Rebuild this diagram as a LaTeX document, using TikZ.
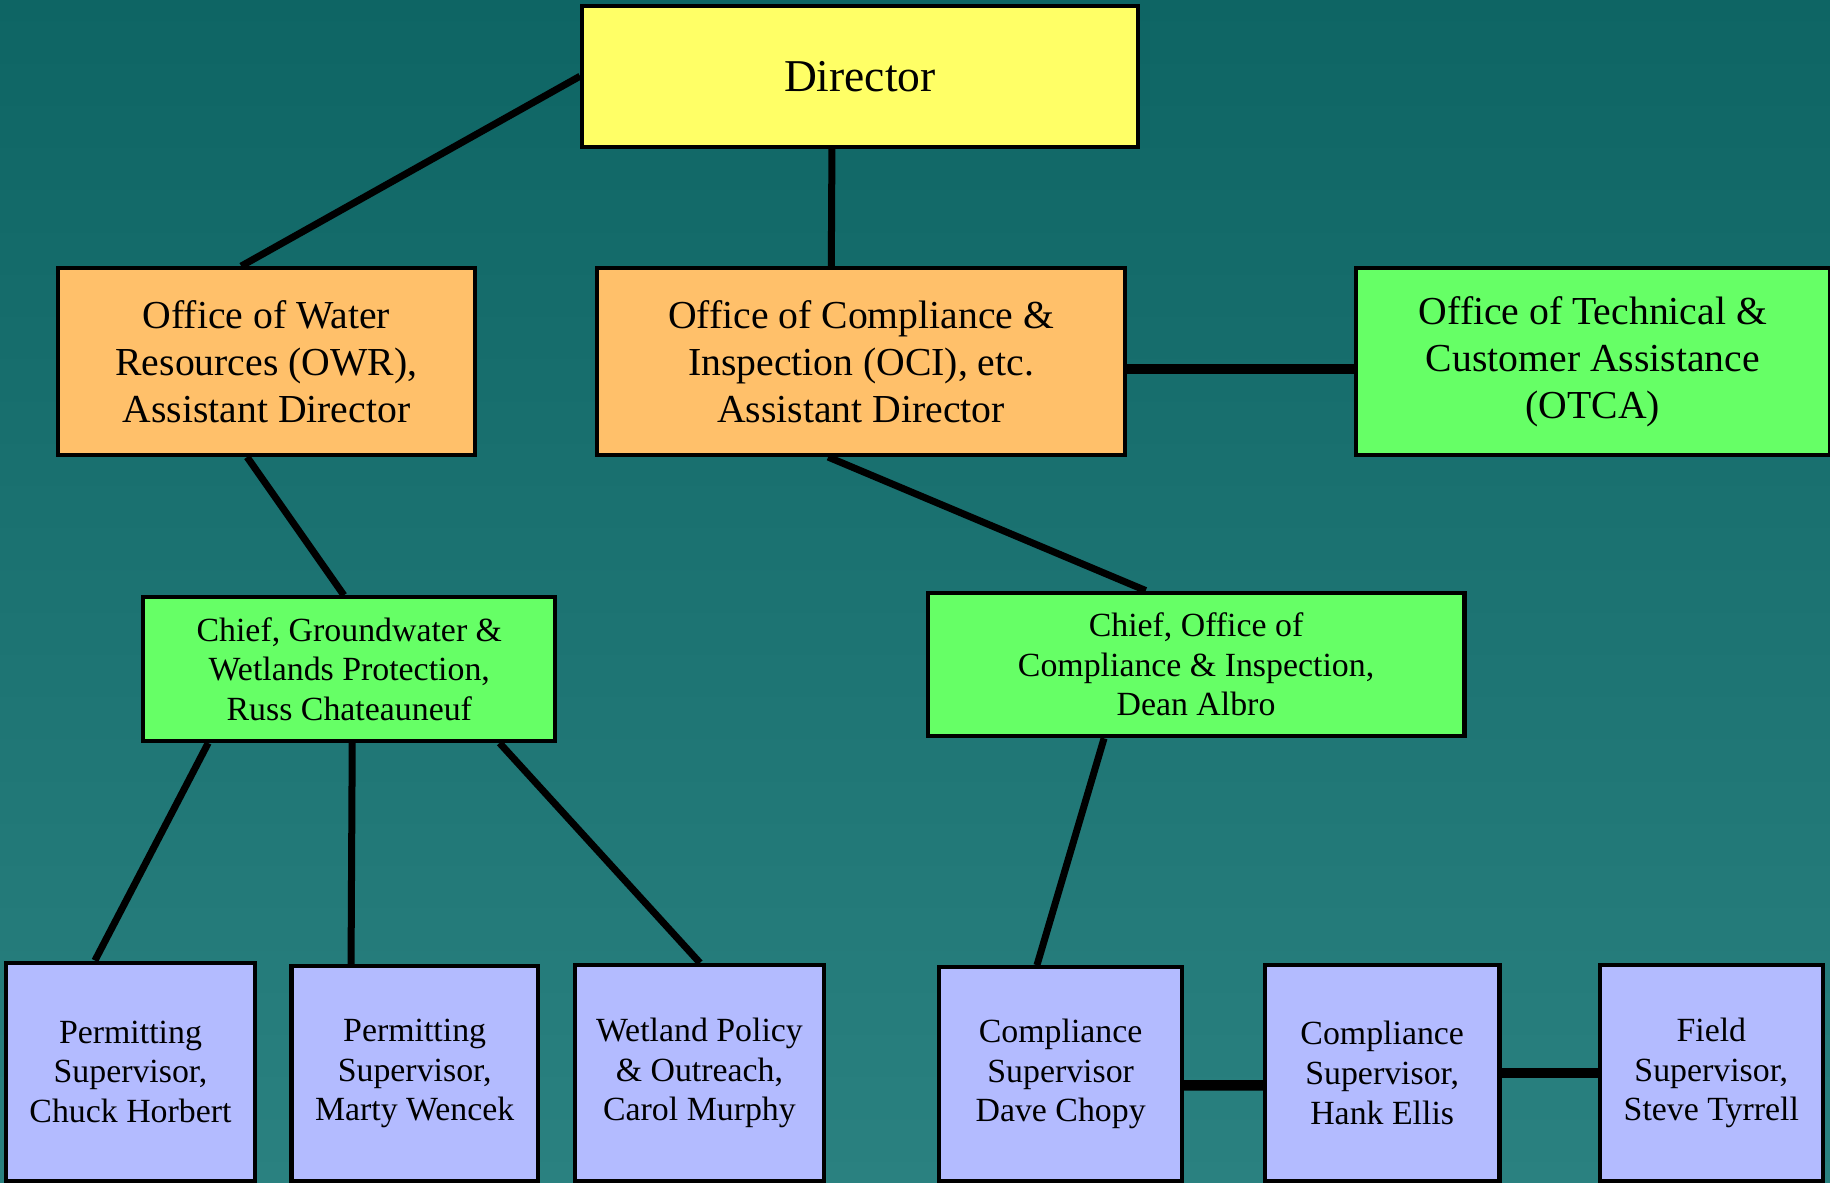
\documentclass[tikz,border=0pt]{standalone}
\usepackage{fontspec}
\setmainfont{Liberation Serif}
\usepackage{xcolor}
\usetikzlibrary{positioning,calc}
\definecolor{bgtop}{RGB}{14,101,100}
\definecolor{bgbot}{RGB}{42,129,128}
\definecolor{dirc}{RGB}{255,255,102}
\definecolor{offc}{RGB}{255,192,106}
\definecolor{chiefc}{RGB}{102,255,102}
\definecolor{supc}{RGB}{179,187,255}
\begin{document}
\begin{tikzpicture}[x=0.5pt,y=-0.5pt,
box/.style={draw=black,line width=1.8pt,align=center,inner sep=0pt,anchor=north west},
boxbig/.style={box,font=\fontsize{17}{20}\selectfont},
boxsmall/.style={box,font=\fontsize{14.5}{17}\selectfont},
link/.style={line width=3pt},
linkh/.style={line width=4.5pt}]
 \shade[top color=bgtop,bottom color=bgbot] (0,0) rectangle (1568,1013);
 \useasboundingbox (0,0) rectangle (1568,1013);
 % top
 \node[box,fill=dirc,minimum width=238pt,minimum height=60.5pt,font=\fontsize{19.5}{22}\selectfont] (dir) at (497,3) {Director};
 % assistant directors
 \node[boxbig,fill=offc,minimum width=178.5pt,minimum height=80pt] (owr) at (48,228)
 {Office of Water\\Resources (OWR),\\Assistant Director};
 \node[boxbig,fill=offc,minimum width=226pt,minimum height=80pt] (oci) at (510,228)
 {Office of Compliance \&\\Inspection (OCI), etc.\\Assistant Director};
 \node[boxbig,fill=chiefc,minimum width=203pt,minimum height=80pt] (otca) at (1160,228)
 {Office of Technical \&\\Customer Assistance\\(OTCA)};
 % chiefs
 \node[boxsmall,fill=chiefc,minimum width=176.5pt,minimum height=61.5pt] (cgw) at (121,510)
 {Chief, Groundwater \&\\Wetlands Protection,\\Russ Chateauneuf};
 \node[boxsmall,fill=chiefc,minimum width=230pt,minimum height=61.5pt] (coci) at (793,506)
 {Chief, Office of\\Compliance \& Inspection,\\Dean Albro};
 % supervisors
 \node[boxsmall,fill=supc,minimum width=107pt,minimum height=93.5pt] (ps1) at (3,823)
 {Permitting\\Supervisor,\\Chuck Horbert};
 \node[boxsmall,fill=supc,minimum width=105.5pt,minimum height=92pt] (ps2) at (248,826)
 {Permitting\\Supervisor,\\Marty Wencek};
 \node[boxsmall,fill=supc,minimum width=106.5pt,minimum height=92.5pt] (wpo) at (491,825)
 {Wetland Policy\\\& Outreach,\\Carol Murphy};
 \node[boxsmall,fill=supc,minimum width=104pt,minimum height=91.5pt] (cs1) at (803,827)
 {Compliance\\Supervisor\\Dave Chopy};
 \node[boxsmall,fill=supc,minimum width=100.5pt,minimum height=92.5pt] (cs2) at (1082,825)
 {Compliance\\Supervisor,\\Hank Ellis};
 \node[boxsmall,fill=supc,minimum width=95.5pt,minimum height=92.5pt] (fsv) at (1369,825)
 {Field\\Supervisor,\\Steve Tyrrell};
 % connectors
 \draw[link] (dir.west) -- ($(owr.north west)!0.44!(owr.north east)$);
 \draw[link] ($(dir.south west)!0.45!(dir.south east)$) -- ($(oci.north west)!0.444!(oci.north east)$);
 \draw[linkh] ($(oci.north east)!0.54!(oci.south east)$) -- ($(otca.north west)!0.54!(otca.south west)$);
 \draw[link] ($(owr.south west)!0.454!(owr.south east)$) -- ($(cgw.north west)!0.487!(cgw.north east)$);
 \draw[link] ($(oci.south west)!0.438!(oci.south east)$) -- ($(coci.north west)!0.407!(coci.north east)$);
 \draw[link] ($(cgw.south west)!0.161!(cgw.south east)$) -- ($(ps1.north west)!0.36!(ps1.north east)$);
 \draw[link] ($(cgw.south west)!0.507!(cgw.south east)$) -- ($(ps2.north west)!0.246!(ps2.north east)$);
 \draw[link] ($(cgw.south west)!0.861!(cgw.south east)$) -- ($(wpo.north west)!0.502!(wpo.north east)$);
 \draw[link] ($(coci.south west)!0.33!(coci.south east)$) -- ($(cs1.north west)!0.404!(cs1.north east)$);
 \draw[linkh] ($(cs1.north east)!0.552!(cs1.south east)$) -- ($(cs2.north west)!0.557!(cs2.south west)$);
 \draw[linkh] (cs2.east) -- (fsv.west);
\end{tikzpicture}
\end{document}
